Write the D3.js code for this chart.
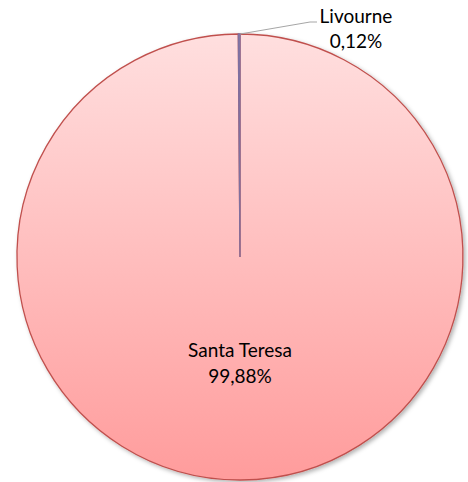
<!DOCTYPE html>
<html>
<head>
<meta charset="utf-8">
<script src="https://cdn.jsdelivr.net/npm/d3@7"></script>
<style>
  body { margin: 0; background: #fff; }
  text { font-family: Lato, "Open Sans", sans-serif; fill: #000; }
</style>
</head>
<body>
<div id="chart"></div>
<script>
const svgWidth = 468
const svgHeight = 482

// chart data
const categories = ["Santa Teresa", "Livourne"]
const values = [99.88, 0.12]
const labels = ["99,88%", "0,12%"]

const cx = 240
const cy = 257
const radius = 223

let svg = d3
  .select("#chart")
  .append("svg")
  .attr("width", svgWidth)
  .attr("height", svgHeight)

let defs = svg.append("defs")

// gradient coords are in the translated group's space
let grad = defs
  .append("linearGradient")
  .attr("id", "pinkGrad")
  .attr("gradientUnits", "userSpaceOnUse")
  .attr("x1", 0).attr("y1", -radius)
  .attr("x2", 0).attr("y2", radius)
grad.append("stop").attr("offset", "0%").attr("stop-color", "#ffdfdf")
grad.append("stop").attr("offset", "100%").attr("stop-color", "#ff9c9c")

let shadow = defs.append("filter").attr("id", "shadow")
  .attr("x", "-10%").attr("y", "-10%").attr("width", "120%").attr("height", "120%")
shadow.append("feDropShadow")
  .attr("dx", 2).attr("dy", 2).attr("stdDeviation", 2)
  .attr("flood-color", "#000").attr("flood-opacity", 0.3)

let chartGroup = svg
  .append("g")
  .attr("transform", `translate(${cx}, ${cy})`)

let pie = d3.pie().sort(null).value(d => d.value)
let data = categories.map((c, i) => ({ name: c, value: values[i], label: labels[i] }))
let arcs = pie(data)

let arc = d3.arc().innerRadius(0).outerRadius(radius)

let colors = ["url(#pinkGrad)", "#8a7fb0"]
let strokes = ["#c0504d", "#7f6f9f"]

chartGroup
  .append("g")
  .attr("filter", "url(#shadow)")
  .selectAll("path")
  .data(arcs)
  .enter()
  .append("path")
  .attr("d", arc)
  .attr("fill", (d, i) => colors[i])
  .attr("stroke", (d, i) => strokes[i])
  .attr("stroke-width", 1.3)

// Santa Teresa label inside
let big = arcs[0]
chartGroup
  .append("text")
  .attr("text-anchor", "middle")
  .attr("font-size", "19px")
  .attr("x", 0)
  .attr("y", 100)
  .text(big.data.name)
chartGroup
  .append("text")
  .attr("text-anchor", "middle")
  .attr("font-size", "19px")
  .attr("x", 0)
  .attr("y", 126)
  .text(big.data.label)

// Livourne label outside with leader line
let small = arcs[1]
let mid = (small.startAngle + small.endAngle) / 2
let edge = [radius * Math.sin(mid), -radius * Math.cos(mid)]
chartGroup
  .append("polyline")
  .attr("points", `${edge[0] + 1},${edge[1]} 70,-235 77,-235`)
  .attr("fill", "none")
  .attr("stroke", "#a6a6a6")
  .attr("stroke-width", 1)

chartGroup
  .append("text")
  .attr("text-anchor", "middle")
  .attr("font-size", "19px")
  .attr("x", 116)
  .attr("y", -234)
  .text(small.data.name)
chartGroup
  .append("text")
  .attr("text-anchor", "middle")
  .attr("font-size", "19px")
  .attr("x", 116)
  .attr("y", -209)
  .text(small.data.label)
</script>
</body>
</html>
